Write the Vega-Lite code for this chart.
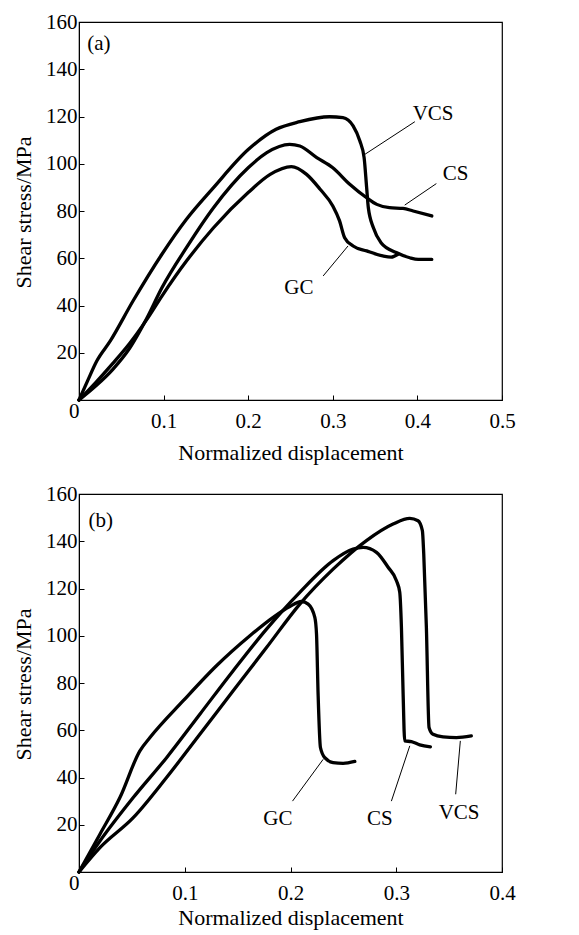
{
  "$schema": "https://vega.github.io/schema/vega-lite/v6.json",
  "padding": {"left": 11, "top": 10, "right": 10, "bottom": 3},
  "spacing": 18,
  "config": {
    "font": "Liberation Serif",
    "view": {"stroke": "black", "strokeWidth": 1.2},
    "axis": {
      "grid": false,
      "domainColor": "black",
      "tickColor": "black",
      "labelColor": "black",
      "titleColor": "black",
      "labelFont": "Liberation Serif",
      "titleFont": "Liberation Serif",
      "labelFontSize": 21,
      "titleFontSize": 22,
      "titleFontWeight": "normal",
      "tickSize": -5
    },
    "axisY": {"labelPadding": 7, "titlePadding": 10}
  },
  "datasets": {
    "curvesA": [
      {"s": "VCS", "i": 0, "x": 0, "y": 0},
      {"s": "VCS", "i": 1, "x": 0.01, "y": 8},
      {"s": "VCS", "i": 2, "x": 0.021, "y": 16.5},
      {"s": "VCS", "i": 3, "x": 0.037, "y": 25},
      {"s": "VCS", "i": 4, "x": 0.064, "y": 42},
      {"s": "VCS", "i": 5, "x": 0.098, "y": 61.7},
      {"s": "VCS", "i": 6, "x": 0.127, "y": 76.5},
      {"s": "VCS", "i": 7, "x": 0.159, "y": 89.9},
      {"s": "VCS", "i": 8, "x": 0.2, "y": 106},
      {"s": "VCS", "i": 9, "x": 0.233, "y": 114.6},
      {"s": "VCS", "i": 10, "x": 0.261, "y": 117.8},
      {"s": "VCS", "i": 11, "x": 0.296, "y": 119.9},
      {"s": "VCS", "i": 12, "x": 0.312, "y": 119.5},
      {"s": "VCS", "i": 13, "x": 0.324, "y": 116},
      {"s": "VCS", "i": 14, "x": 0.332, "y": 109.6},
      {"s": "VCS", "i": 15, "x": 0.337, "y": 102.6},
      {"s": "VCS", "i": 16, "x": 0.34, "y": 89.9},
      {"s": "VCS", "i": 17, "x": 0.342, "y": 81.4},
      {"s": "VCS", "i": 18, "x": 0.348, "y": 72.9},
      {"s": "VCS", "i": 19, "x": 0.357, "y": 66.6},
      {"s": "VCS", "i": 20, "x": 0.375, "y": 62.4},
      {"s": "VCS", "i": 21, "x": 0.391, "y": 60.2},
      {"s": "VCS", "i": 22, "x": 0.401, "y": 59.5},
      {"s": "VCS", "i": 23, "x": 0.417, "y": 59.5},
      {"s": "CS", "i": 0, "x": 0, "y": 0},
      {"s": "CS", "i": 1, "x": 0.02, "y": 6},
      {"s": "CS", "i": 2, "x": 0.04, "y": 13},
      {"s": "CS", "i": 3, "x": 0.06, "y": 22},
      {"s": "CS", "i": 4, "x": 0.08, "y": 34.5},
      {"s": "CS", "i": 5, "x": 0.098, "y": 47.5},
      {"s": "CS", "i": 6, "x": 0.127, "y": 64.5},
      {"s": "CS", "i": 7, "x": 0.159, "y": 81.4},
      {"s": "CS", "i": 8, "x": 0.2, "y": 98.3},
      {"s": "CS", "i": 9, "x": 0.222, "y": 104.7},
      {"s": "CS", "i": 10, "x": 0.249, "y": 108.2},
      {"s": "CS", "i": 11, "x": 0.261, "y": 107.5},
      {"s": "CS", "i": 12, "x": 0.281, "y": 102.6},
      {"s": "CS", "i": 13, "x": 0.3, "y": 98.3},
      {"s": "CS", "i": 14, "x": 0.32, "y": 91.3},
      {"s": "CS", "i": 15, "x": 0.34, "y": 85.6},
      {"s": "CS", "i": 16, "x": 0.352, "y": 82.8},
      {"s": "CS", "i": 17, "x": 0.367, "y": 81.4},
      {"s": "CS", "i": 18, "x": 0.383, "y": 81.1},
      {"s": "CS", "i": 19, "x": 0.395, "y": 80},
      {"s": "CS", "i": 20, "x": 0.417, "y": 77.9},
      {"s": "GC", "i": 0, "x": 0, "y": 0},
      {"s": "GC", "i": 1, "x": 0.02, "y": 7.5},
      {"s": "GC", "i": 2, "x": 0.04, "y": 15.5},
      {"s": "GC", "i": 3, "x": 0.06, "y": 24},
      {"s": "GC", "i": 4, "x": 0.08, "y": 34},
      {"s": "GC", "i": 5, "x": 0.098, "y": 44},
      {"s": "GC", "i": 6, "x": 0.127, "y": 58.8},
      {"s": "GC", "i": 7, "x": 0.159, "y": 72.9},
      {"s": "GC", "i": 8, "x": 0.2, "y": 87.8},
      {"s": "GC", "i": 9, "x": 0.226, "y": 95.5},
      {"s": "GC", "i": 10, "x": 0.251, "y": 98.8},
      {"s": "GC", "i": 11, "x": 0.269, "y": 95.5},
      {"s": "GC", "i": 12, "x": 0.285, "y": 89.2},
      {"s": "GC", "i": 13, "x": 0.3, "y": 82.1},
      {"s": "GC", "i": 14, "x": 0.308, "y": 75.8},
      {"s": "GC", "i": 15, "x": 0.314, "y": 68.7},
      {"s": "GC", "i": 16, "x": 0.324, "y": 65.2},
      {"s": "GC", "i": 17, "x": 0.34, "y": 63.1},
      {"s": "GC", "i": 18, "x": 0.359, "y": 61},
      {"s": "GC", "i": 19, "x": 0.369, "y": 60.5},
      {"s": "GC", "i": 20, "x": 0.377, "y": 61.7}
    ],
    "curvesB": [
      {"s": "GC", "i": 0, "x": 0, "y": 0},
      {"s": "GC", "i": 1, "x": 0.0198, "y": 16},
      {"s": "GC", "i": 2, "x": 0.0387, "y": 31.5},
      {"s": "GC", "i": 3, "x": 0.0576, "y": 51.3},
      {"s": "GC", "i": 4, "x": 0.0671, "y": 56.9},
      {"s": "GC", "i": 5, "x": 0.0986, "y": 72.5},
      {"s": "GC", "i": 6, "x": 0.13, "y": 87.3},
      {"s": "GC", "i": 7, "x": 0.1616, "y": 100},
      {"s": "GC", "i": 8, "x": 0.1836, "y": 107.8},
      {"s": "GC", "i": 9, "x": 0.1994, "y": 112.4},
      {"s": "GC", "i": 10, "x": 0.2104, "y": 114.5},
      {"s": "GC", "i": 11, "x": 0.2167, "y": 113.4},
      {"s": "GC", "i": 12, "x": 0.223, "y": 107.8},
      {"s": "GC", "i": 13, "x": 0.2246, "y": 100.7},
      {"s": "GC", "i": 14, "x": 0.2261, "y": 75.3},
      {"s": "GC", "i": 15, "x": 0.2283, "y": 52.7},
      {"s": "GC", "i": 16, "x": 0.2324, "y": 48.4},
      {"s": "GC", "i": 17, "x": 0.2403, "y": 46.3},
      {"s": "GC", "i": 18, "x": 0.2498, "y": 46},
      {"s": "GC", "i": 19, "x": 0.2608, "y": 46.8},
      {"s": "CS", "i": 0, "x": 0, "y": 0},
      {"s": "CS", "i": 1, "x": 0.0198, "y": 13.1},
      {"s": "CS", "i": 2, "x": 0.0513, "y": 31.5},
      {"s": "CS", "i": 3, "x": 0.0828, "y": 48.4},
      {"s": "CS", "i": 4, "x": 0.1143, "y": 66.8},
      {"s": "CS", "i": 5, "x": 0.1458, "y": 85.2},
      {"s": "CS", "i": 6, "x": 0.1773, "y": 102.8},
      {"s": "CS", "i": 7, "x": 0.2088, "y": 118.4},
      {"s": "CS", "i": 8, "x": 0.2403, "y": 131.8},
      {"s": "CS", "i": 9, "x": 0.2592, "y": 136.7},
      {"s": "CS", "i": 10, "x": 0.2687, "y": 137.4},
      {"s": "CS", "i": 11, "x": 0.2813, "y": 135.3},
      {"s": "CS", "i": 12, "x": 0.2923, "y": 129},
      {"s": "CS", "i": 13, "x": 0.3002, "y": 123.3},
      {"s": "CS", "i": 14, "x": 0.3033, "y": 118.4},
      {"s": "CS", "i": 15, "x": 0.3049, "y": 103.5},
      {"s": "CS", "i": 16, "x": 0.3065, "y": 75.3},
      {"s": "CS", "i": 17, "x": 0.308, "y": 55.5},
      {"s": "CS", "i": 18, "x": 0.3143, "y": 55.2},
      {"s": "CS", "i": 19, "x": 0.3222, "y": 53.8},
      {"s": "CS", "i": 20, "x": 0.3323, "y": 53},
      {"s": "VCS", "i": 0, "x": 0, "y": 0},
      {"s": "VCS", "i": 1, "x": 0.0198, "y": 10.3},
      {"s": "VCS", "i": 2, "x": 0.0513, "y": 23},
      {"s": "VCS", "i": 3, "x": 0.0828, "y": 40},
      {"s": "VCS", "i": 4, "x": 0.1143, "y": 58.3},
      {"s": "VCS", "i": 5, "x": 0.1458, "y": 76.7},
      {"s": "VCS", "i": 6, "x": 0.1773, "y": 95},
      {"s": "VCS", "i": 7, "x": 0.2088, "y": 113.4},
      {"s": "VCS", "i": 8, "x": 0.2403, "y": 128.2},
      {"s": "VCS", "i": 9, "x": 0.2718, "y": 140.3},
      {"s": "VCS", "i": 10, "x": 0.297, "y": 147.3},
      {"s": "VCS", "i": 11, "x": 0.3128, "y": 149.7},
      {"s": "VCS", "i": 12, "x": 0.3206, "y": 148.7},
      {"s": "VCS", "i": 13, "x": 0.3247, "y": 144.5},
      {"s": "VCS", "i": 14, "x": 0.326, "y": 134.6},
      {"s": "VCS", "i": 15, "x": 0.3285, "y": 103.5},
      {"s": "VCS", "i": 16, "x": 0.331, "y": 61.2},
      {"s": "VCS", "i": 17, "x": 0.3348, "y": 58.3},
      {"s": "VCS", "i": 18, "x": 0.3443, "y": 57.2},
      {"s": "VCS", "i": 19, "x": 0.3569, "y": 56.9},
      {"s": "VCS", "i": 20, "x": 0.371, "y": 57.6}
    ],
    "leadA": [
      {"s": "VCS", "x": 0.338, "y": 104, "x2": 0.397, "y2": 117.8},
      {"s": "CS", "x": 0.385, "y": 82.5, "x2": 0.4224, "y2": 91.6},
      {"s": "GC", "x": 0.2886, "y": 52.5, "x2": 0.318, "y2": 65.2}
    ],
    "leadB": [
      {"s": "GC", "x": 0.2019, "y": 30, "x2": 0.2309, "y2": 47.7},
      {"s": "CS", "x": 0.2954, "y": 30, "x2": 0.3128, "y2": 53.4},
      {"s": "VCS", "x": 0.3562, "y": 32.9, "x2": 0.3606, "y2": 55.5}
    ],
    "textA": [
      {"t": "VCS", "x": 0.4185, "y": 120.9},
      {"t": "CS", "x": 0.445, "y": 95.8},
      {"t": "GC", "x": 0.26, "y": 47.3},
      {"t": "(a)", "x": 0.0236, "y": 150.8}
    ],
    "textB": [
      {"t": "GC", "x": 0.188, "y": 22.3},
      {"t": "CS", "x": 0.2844, "y": 22.3},
      {"t": "VCS", "x": 0.3594, "y": 25.1},
      {"t": "(b)", "x": 0.0205, "y": 148.7}
    ]
  },
  "vconcat": [
    {
      "width": 423,
      "height": 378,
      "layer": [
        {
          "data": {"name": "curvesA"},
          "mark": {"type": "line", "color": "black", "strokeWidth": 3.3, "interpolate": "monotone", "strokeCap": "round", "strokeJoin": "round"},
          "encoding": {
            "x": {"field": "x", "type": "quantitative", "scale": {"domain": [0, 0.5], "nice": false},
              "axis": {"title": "Normalized displacement", "values": [0, 0.1, 0.2, 0.3, 0.4, 0.5], "titlePadding": 11,
                "labelExpr": "datum.value == 0 ? '0' : format(datum.value, '.1f')",
                "labelPadding": {"condition": {"test": "datum.value == 0", "value": 5}, "value": 15},
                "labelAlign": {"condition": {"test": "datum.value == 0", "value": "right"}, "value": "center"}}},
            "y": {"field": "y", "type": "quantitative", "scale": {"domain": [0, 160], "nice": false},
              "axis": {"title": "Shear stress/MPa", "values": [20, 40, 60, 80, 100, 120, 140, 160], "titleY": 190}},
            "detail": {"field": "s"},
            "order": {"field": "i"}
          }
        },
        {
          "data": {"name": "leadA"},
          "mark": {"type": "rule", "color": "black", "strokeWidth": 1},
          "encoding": {
            "x": {"field": "x", "type": "quantitative"},
            "y": {"field": "y", "type": "quantitative"},
            "x2": {"field": "x2"},
            "y2": {"field": "y2"}
          }
        },
        {
          "data": {"name": "textA"},
          "mark": {"type": "text", "font": "Liberation Serif", "fontSize": 21, "color": "black"},
          "encoding": {
            "x": {"field": "x", "type": "quantitative"},
            "y": {"field": "y", "type": "quantitative"},
            "text": {"field": "t"}
          }
        }
      ]
    },
    {
      "width": 423,
      "height": 378,
      "layer": [
        {
          "data": {"name": "curvesB"},
          "mark": {"type": "line", "color": "black", "strokeWidth": 3.3, "interpolate": "monotone", "strokeCap": "round", "strokeJoin": "round"},
          "encoding": {
            "x": {"field": "x", "type": "quantitative", "scale": {"domain": [0, 0.4], "nice": false},
              "axis": {"title": "Normalized displacement", "values": [0, 0.1, 0.2, 0.3, 0.4], "titlePadding": 4,
                "labelExpr": "datum.value == 0 ? '0' : format(datum.value, '.1f')",
                "labelPadding": {"condition": {"test": "datum.value == 0", "value": 5}, "value": 15},
                "labelAlign": {"condition": {"test": "datum.value == 0", "value": "right"}, "value": "center"}}},
            "y": {"field": "y", "type": "quantitative", "scale": {"domain": [0, 160], "nice": false},
              "axis": {"title": "Shear stress/MPa", "values": [20, 40, 60, 80, 100, 120, 140, 160], "titleY": 190}},
            "detail": {"field": "s"},
            "order": {"field": "i"}
          }
        },
        {
          "data": {"name": "leadB"},
          "mark": {"type": "rule", "color": "black", "strokeWidth": 1},
          "encoding": {
            "x": {"field": "x", "type": "quantitative"},
            "y": {"field": "y", "type": "quantitative"},
            "x2": {"field": "x2"},
            "y2": {"field": "y2"}
          }
        },
        {
          "data": {"name": "textB"},
          "mark": {"type": "text", "font": "Liberation Serif", "fontSize": 21, "color": "black"},
          "encoding": {
            "x": {"field": "x", "type": "quantitative"},
            "y": {"field": "y", "type": "quantitative"},
            "text": {"field": "t"}
          }
        }
      ]
    }
  ]
}
